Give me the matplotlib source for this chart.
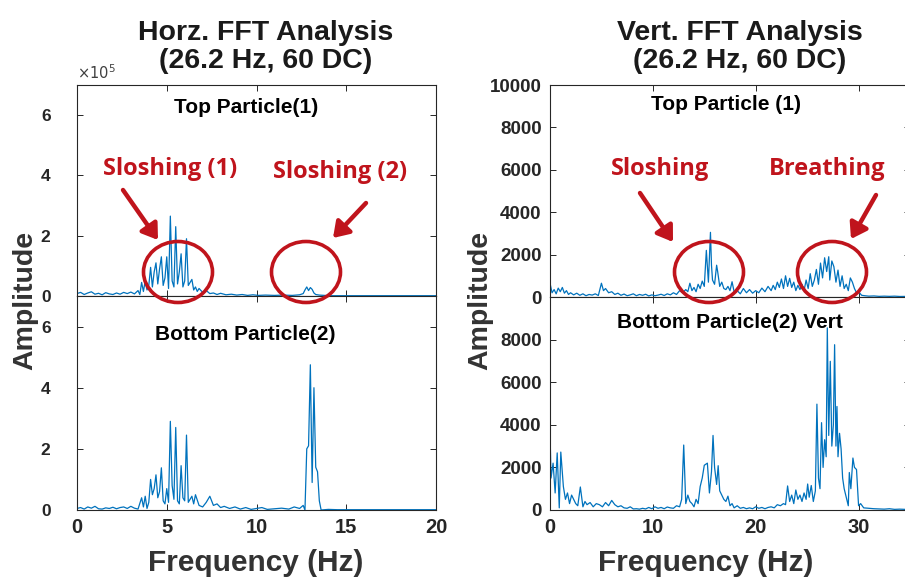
import matplotlib
matplotlib.use("Agg")
import matplotlib.pyplot as plt
from matplotlib.patches import Ellipse, FancyArrowPatch
import numpy as np

# ---------------- data ----------------
# Horizontal FFT, top particle (amplitude in units of 1e5)
HT_f = [0.0, 0.2, 0.4, 0.6, 0.8, 1.0, 1.2, 1.4, 1.6, 1.8,
        2.0, 2.2, 2.4, 2.6, 2.8, 3.0, 3.2, 3.4, 3.5, 3.6,
        3.7, 3.8, 3.9, 4.0, 4.1, 4.2, 4.3, 4.4, 4.5, 4.6,
        4.7, 4.8, 4.9, 5.0, 5.1, 5.2, 5.3, 5.4, 5.5, 5.6,
        5.7, 5.8, 5.9, 6.0, 6.1, 6.2, 6.3, 6.4, 6.5, 6.6,
        6.7, 6.8, 7.0, 7.2, 7.4, 7.6, 7.8, 8.0, 8.3, 8.6,
        8.9, 9.2, 9.5, 9.8, 10.1, 10.5, 11.0, 11.5, 12.0, 12.4,
        12.6, 12.7, 12.8, 12.9, 13.0, 13.1, 13.2, 13.3, 13.5, 13.8,
        14.2, 15.0, 16.0, 17.0, 18.0, 19.0, 20.0]
HT_a = [0.08, 0.12, 0.05, 0.10, 0.14, 0.06, 0.09, 0.04, 0.11, 0.07,
        0.05, 0.10, 0.06, 0.12, 0.08, 0.13, 0.07, 0.18, 0.05, 0.45,
        0.15, 0.50, 0.20, 0.35, 0.95, 0.30, 0.80, 1.10, 0.40, 0.90,
        1.30, 0.35, 0.60, 1.30, 0.25, 2.65, 0.50, 0.30, 2.30, 0.40,
        0.80, 1.40, 0.30, 0.50, 1.90, 0.35, 0.45, 0.55, 0.20, 0.30,
        0.15, 0.25, 0.12, 0.18, 0.08, 0.10, 0.05, 0.09, 0.04, 0.06,
        0.03, 0.05, 0.02, 0.04, 0.02, 0.03, 0.02, 0.03, 0.02, 0.04,
        0.08, 0.20, 0.30, 0.18, 0.28, 0.22, 0.10, 0.05, 0.03, 0.02,
        0.01, 0.01, 0.01, 0.01, 0.01, 0.01, 0.01]

# Horizontal FFT, bottom particle (amplitude in units of 1e5)
HB_f = [0.0, 0.2, 0.4, 0.6, 0.8, 1.0, 1.2, 1.4, 1.6, 1.8,
        2.0, 2.2, 2.4, 2.6, 2.8, 3.0, 3.2, 3.4, 3.6, 3.7,
        3.8, 3.9, 4.0, 4.1, 4.2, 4.3, 4.4, 4.5, 4.6, 4.7,
        4.8, 4.9, 5.0, 5.1, 5.2, 5.3, 5.4, 5.5, 5.6, 5.7,
        5.8, 5.9, 6.0, 6.1, 6.2, 6.3, 6.4, 6.5, 6.6, 6.8,
        7.0, 7.2, 7.4, 7.6, 7.8, 8.0, 8.2, 8.5, 8.8, 9.1,
        9.4, 9.7, 10.0, 10.3, 10.6, 11.0, 11.4, 11.8, 12.1, 12.4,
        12.6, 12.7, 12.8, 12.9, 13.0, 13.1, 13.2, 13.3, 13.4, 13.5,
        13.6, 14.0, 14.5, 15.0, 16.0, 17.0, 18.0, 19.0, 20.0]
HB_a = [0.05, 0.08, 0.03, 0.10, 0.06, 0.12, 0.04, 0.03, 0.07, 0.05,
        0.09, 0.04, 0.08, 0.10, 0.05, 0.12, 0.06, 0.03, 0.40, 0.10,
        0.45, 0.05, 0.25, 1.00, 0.50, 0.70, 1.15, 0.40, 0.60, 1.38,
        0.30, 0.20, 0.70, 0.25, 2.90, 0.80, 0.35, 2.70, 0.30, 0.20,
        1.45, 0.40, 0.30, 2.45, 0.25, 0.35, 0.45, 0.20, 0.50, 0.15,
        0.10, 0.25, 0.45, 0.15, 0.20, 0.08, 0.12, 0.05, 0.10, 0.03,
        0.08, 0.02, 0.05, 0.08, 0.02, 0.04, 0.06, 0.03, 0.10, 0.05,
        0.15, 0.00, 2.00, 2.10, 4.75, 0.90, 4.00, 1.40, 1.25, 0.30,
        0.00, 0.02, 0.01, 0.01, 0.01, 0.01, 0.01, 0.01, 0.01]

# Vertical FFT, top particle
VT_f = [0.0, 0.2, 0.4, 0.6, 0.8, 1.0, 1.2, 1.4, 1.6, 1.8,
        2.0, 2.3, 2.6, 2.9, 3.2, 3.5, 3.8, 4.1, 4.4, 4.7,
        5.0, 5.2, 5.4, 5.7, 6.0, 6.3, 6.6, 6.9, 7.2, 7.5,
        7.8, 8.1, 8.4, 8.7, 9.0, 9.3, 9.6, 9.9, 10.2, 10.5,
        10.8, 11.1, 11.4, 11.7, 12.0, 12.3, 12.6, 12.9, 13.2, 13.4,
        13.6, 13.8, 14.0, 14.2, 14.4, 14.6, 14.8, 15.0, 15.2, 15.4,
        15.6, 15.7, 15.8, 16.0, 16.2, 16.3, 16.5, 16.7, 16.9, 17.1,
        17.3, 17.5, 17.7, 17.9, 18.2, 18.5, 18.8, 19.1, 19.4, 19.7,
        20.0, 20.3, 20.6, 20.9, 21.2, 21.5, 21.7, 21.9, 22.1, 22.3,
        22.5, 22.7, 22.9, 23.1, 23.3, 23.5, 23.7, 23.9, 24.1, 24.3,
        24.5, 24.7, 24.9, 25.1, 25.3, 25.5, 25.7, 25.9, 26.1, 26.3,
        26.5, 26.7, 26.9, 27.1, 27.2, 27.4, 27.6, 27.8, 28.0, 28.2,
        28.4, 28.6, 28.8, 29.0, 29.2, 29.4, 29.6, 29.8, 30.0, 30.3,
        30.6, 31.0, 31.5, 32.0, 32.5, 33.0, 33.5, 34.0, 34.5, 35.0]
VT_a = [650, 200, 350, 150, 420, 250, 450, 180, 300, 120,
        200, 100, 180, 80, 150, 60, 120, 90, 150, 70,
        650, 300, 400, 200, 250, 120, 180, 80, 140, 60,
        100, 150, 60, 120, 80, 130, 50, 100, 60, 90,
        130, 70, 150, 100, 200, 120, 300, 200, 350, 250,
        650, 300, 450, 250, 600, 400, 750, 500, 2200, 700,
        3050, 1500, 800, 600, 1500, 1200, 500, 700, 400, 350,
        500, 300, 720, 250, 300, 150, 400, 200, 350, 180,
        300, 200, 420, 250, 500, 300, 550, 350, 700, 450,
        850, 400, 1000, 500, 880, 450, 700, 300, 550, 350,
        600, 300, 800, 400, 1100, 500, 800, 1300, 600, 1600,
        900, 1850, 1200, 1900, 800, 1700, 1430, 700, 1270, 500,
        1000, 400, 600, 300, 900, 700, 400, 200, 250, 80,
        60, 40, 50, 30, 40, 30, 40, 25, 30, 20]

# Vertical FFT, bottom particle
VB_f = [0.0, 0.1, 0.3, 0.5, 0.7, 0.9, 1.05, 1.3, 1.5, 1.7,
        1.9, 2.1, 2.3, 2.5, 2.7, 2.95, 3.2, 3.4, 3.6, 3.9,
        4.2, 4.5, 4.8, 5.1, 5.4, 5.7, 6.0, 6.3, 6.6, 6.9,
        7.2, 7.5, 7.8, 8.1, 8.4, 8.7, 9.0, 9.3, 9.6, 9.9,
        10.2, 10.5, 10.8, 11.1, 11.4, 11.7, 12.0, 12.3, 12.6, 12.8,
        13.0, 13.2, 13.4, 13.6, 13.8, 14.0, 14.2, 14.4, 14.6, 14.8,
        15.0, 15.3, 15.5, 15.7, 15.85, 16.0, 16.2, 16.35, 16.5, 16.7,
        16.9, 17.1, 17.3, 17.5, 17.7, 17.9, 18.2, 18.5, 18.8, 19.1,
        19.4, 19.7, 20.0, 20.3, 20.6, 20.9, 21.2, 21.5, 21.8, 22.1,
        22.4, 22.7, 22.9, 23.1, 23.3, 23.5, 23.7, 23.9, 24.1, 24.3,
        24.5, 24.7, 24.9, 25.05, 25.2, 25.4, 25.6, 25.8, 25.95, 26.1,
        26.25, 26.4, 26.55, 26.7, 26.85, 26.96, 27.1, 27.25, 27.4, 27.55,
        27.67, 27.8, 27.9, 28.0, 28.15, 28.3, 28.45, 28.6, 28.8, 29.0,
        29.1, 29.25, 29.45, 29.6, 29.8, 30.0, 30.2, 30.5, 31.0, 31.5,
        32.0, 32.5, 33.0, 33.5, 34.0, 34.5, 35.0]
VB_a = [3700, 1500, 2200, 800, 2680, 100, 2720, 1100, 500, 800,
        300, 700, 500, 300, 200, 1080, 150, 400, 250, 350,
        150, 300, 250, 150, 350, 200, 450, 250, 150, 200,
        100, 80, 150, 50, 60, 40, 80, 50, 120, 60,
        150, 80, 120, 60, 140, 100, 80, 200, 150, 500,
        3050, 300, 700, 400, 300, 150, 500, 300, 1100, 1500,
        2100, 2200, 800, 1800, 3500, 2000, 1200, 2080, 900, 700,
        500, 400, 650, 200, 300, 100, 200, 80, 120, 60,
        100, 60, 150, 80, 120, 60, 120, 150, 100, 250,
        200, 300, 250, 1130, 400, 700, 300, 940, 500, 700,
        400, 800, 500, 1220, 600, 1150, 400, 900, 4970, 1500,
        1000, 4100, 2000, 3300, 2500, 8550, 3500, 6980, 3000, 4000,
        7760, 3000, 4860, 2500, 3600, 2870, 1500, 1000, 600, 200,
        1760, 1000, 2440, 2000, 1900, 200, 300, 100, 80, 60,
        50, 40, 60, 30, 40, 30, 20]

H_xticks = [0, 5, 10, 15, 20]
H_yticks = [0, 2, 4, 6]
VT_yticks = [0, 2000, 4000, 6000, 8000, 10000]
VB_yticks = [0, 2000, 4000, 6000, 8000]
V_xticks = [0, 10, 20, 30]

# ---------------- figure ----------------
W, H = 905, 581
fig = plt.figure(figsize=(W / 100, H / 100), dpi=100)
plt.rcParams['font.family'] = ['Liberation Sans', 'DejaVu Sans']

LINE = '#0072BD'
DARK = '#262626'
RED = '#C0141C'


def px_axes(x0, y0, x1, y1):
    return fig.add_axes([x0 / W, 1 - y1 / H, (x1 - x0) / W, (y1 - y0) / H])


def style(ax, tick_fs):
    for s in ax.spines.values():
        s.set_color(DARK)
        s.set_linewidth(0.8)
    ax.tick_params(direction='in', length=4, width=0.7, colors=DARK,
                   top=True, right=True, labelsize=tick_fs)
    for lab in ax.get_xticklabels() + ax.get_yticklabels():
        lab.set_fontweight('bold')


ax_ht = px_axes(77, 85, 436, 296)
ax_hb = px_axes(77, 296, 436, 510)
ax_vt = px_axes(550, 85, 910, 297)
ax_vb = px_axes(550, 297, 910, 510)

ax_ht.plot(HT_f, HT_a, color=LINE, lw=0.9)
ax_hb.plot(HB_f, HB_a, color=LINE, lw=0.9)
ax_vt.plot(VT_f, VT_a, color=LINE, lw=0.9)
ax_vb.plot(VB_f, VB_a, color=LINE, lw=0.9)

for ax in (ax_ht, ax_hb):
    ax.set_xlim(0, 20)
    ax.set_ylim(0, 7)
    ax.set_xticks(H_xticks)
    ax.set_yticks(H_yticks)
for ax in (ax_vt, ax_vb):
    ax.set_xlim(0, 35)
    ax.set_ylim(0, 10000)
    ax.set_xticks(V_xticks)
ax_vt.set_yticks(VT_yticks)
ax_vb.set_yticks(VB_yticks)
ax_ht.set_xticklabels([])
ax_vt.set_xticklabels([])

for ax in (ax_ht, ax_hb):
    style(ax, 12.5)
    ax.tick_params(axis='y', pad=19)
for ax in (ax_vt, ax_vb):
    style(ax, 13.5)
    ax.tick_params(axis='y', pad=6)
for ax in (ax_hb, ax_vb):
    ax.tick_params(axis='x', labelsize=14.5, pad=6)

# inner subplot titles
ax_ht.text(0.47, 0.895, 'Top Particle(1)', transform=ax_ht.transAxes,
           ha='center', va='center', fontsize=15, fontweight='bold')
ax_hb.text(0.47, 0.818, 'Bottom Particle(2)', transform=ax_hb.transAxes,
           ha='center', va='center', fontsize=15, fontweight='bold')
ax_vt.text(0.49, 0.906, 'Top Particle (1)', transform=ax_vt.transAxes,
           ha='center', va='center', fontsize=15, fontweight='bold')
ax_vb.text(0.5, 0.878, 'Bottom Particle(2) Vert', transform=ax_vb.transAxes,
           ha='center', va='center', fontsize=15, fontweight='bold')

# multiplier label
fig.text(77 / W, 1 - 73 / H, r'$\times10^{5}$', fontsize=10.5, color='#404040',
         ha='left', va='center')

# main titles
fig.text(266 / W, 1 - 47 / H, 'Horz. FFT Analysis\n(26.2 Hz, 60 DC)',
         ha='center', va='center', fontsize=20.5, fontweight='bold',
         linespacing=1.1, color='#1a1a1a')
fig.text(740 / W, 1 - 47 / H, 'Vert. FFT Analysis\n(26.2 Hz, 60 DC)',
         ha='center', va='center', fontsize=20.5, fontweight='bold',
         linespacing=1.1, color='#1a1a1a')

# axis labels
for xc in (25, 480):
    fig.text(xc / W, 1 - 300 / H, 'Amplitude', rotation=90, ha='center',
             va='center', fontsize=20.5, fontweight='bold', color='#333333')
for xc in (256, 706):
    fig.text(xc / W, 1 - 563 / H, 'Frequency (Hz)', ha='center',
             va='center', fontsize=21.5, fontweight='bold', color='#333333')

# red annotations
ann_font = dict(fontsize=17, fontweight='bold', color=RED,
                family=['Open Sans', 'DejaVu Sans'], ha='center', va='center')
fig.text(170 / W, 1 - 169 / H, 'Sloshing (1)', **ann_font)
fig.text(340 / W, 1 - 172 / H, 'Sloshing (2)', **ann_font)
fig.text(660 / W, 1 - 169 / H, 'Sloshing', **ann_font)
fig.text(827 / W, 1 - 169 / H, 'Breathing', **ann_font)

for cx in (178, 306, 709, 832):
    e = Ellipse((cx / W, 1 - 272 / H), 69 / W, 61 / H, fill=False,
                edgecolor=RED, lw=2.6, transform=fig.transFigure, zorder=10)
    fig.add_artist(e)

arrows = [((123, 190), (158, 240)), ((366, 203), (333, 238)),
          ((640, 193), (673, 242)), ((876, 195), (851, 239))]
for (x0, y0), (x1, y1) in arrows:
    a = FancyArrowPatch((x0 / W, 1 - y0 / H), (x1 / W, 1 - y1 / H),
                        transform=fig.transFigure, color=RED, lw=3.2,
                        arrowstyle='-|>,head_length=9,head_width=6',
                        shrinkA=0, shrinkB=0, zorder=10)
    fig.add_artist(a)

fig.savefig('out.png', dpi=100)
